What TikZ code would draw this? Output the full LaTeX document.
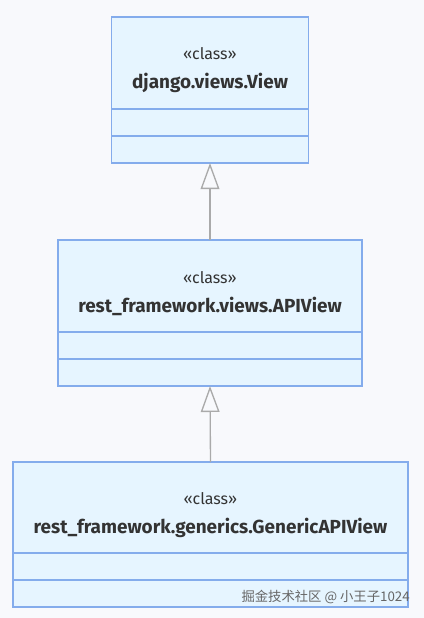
\documentclass[tikz,border=0pt]{standalone}
\usepackage{fontspec}
\setmainfont{Fira Sans}
\newfontfamily\cjkfont{Noto Sans CJK SC}
\usetikzlibrary{positioning,arrows.meta}
\definecolor{bgcol}{HTML}{F8F9FC}
\definecolor{boxfill}{HTML}{E6F5FF}
\definecolor{boxline}{HTML}{84ACEC}
\definecolor{linkcol}{HTML}{AAAAAA}
\definecolor{textcol}{HTML}{333333}
\tikzset{
  classhead/.style={draw=boxline, fill=boxfill, line width=1pt, outer sep=0pt, align=center, inner sep=0pt, text=textcol},
  classpart/.style={draw=boxline, fill=boxfill, line width=1pt, outer sep=0pt, inner sep=0pt, minimum height=20.25pt},
  inherit/.style={draw=linkcol, line width=1pt, -{Triangle[length=19.5pt, width=14pt, fill=bgcol, line width=1pt]}}
}
\newcommand{\classtext}[1]{{\fontsize{12}{14}\selectfont\rule{0pt}{20pt}«class»}\\[9.5pt]{\fontsize{14.2}{16}\selectfont\bfseries #1}}
\begin{document}
\begin{tikzpicture}[x=0.75pt, y=-0.75pt]

% Draw the background
\fill[bgcol] (0,0) rectangle (424,618);
\useasboundingbox (0,0) rectangle (424,618);

% draw the classes:
\node[classhead, minimum width=147.75pt, minimum height=69pt] (view) at (210,63) {\classtext{django.views.View}};
\node[classpart, minimum width=147.75pt, below=0pt of view] (viewattr) {};
\node[classpart, minimum width=147.75pt, below=0pt of viewattr] (viewops) {};

\node[classhead, minimum width=228pt, minimum height=69pt] (apiview) at (210,286) {\classtext{rest\_framework.views.APIView}};
\node[classpart, minimum width=228pt, below=0pt of apiview] (apiviewattr) {};
\node[classpart, minimum width=228pt, below=0pt of apiviewattr] (apiviewops) {};

\node[classhead, minimum width=296.25pt, minimum height=68.25pt] (generic) at (210.5,507.5) {\classtext{rest\_framework.generics.GenericAPIView}};
\node[classpart, minimum width=296.25pt, below=0pt of generic] (genericattr) {};
\node[classpart, minimum width=296.25pt, below=0pt of genericattr] (genericops) {};

% draw the inheritance links:
\draw[inherit] (apiview.north) -- (viewops.south);
\draw[inherit] (generic.north) -- (apiviewops.south);

% watermark
\node[anchor=east, text=gray!80!black, font=\cjkfont\fontsize{10}{12}\selectfont, inner sep=0pt] (mark) at (410,597) {掘金技术社区 @ 小王子1024};
\end{tikzpicture}
\end{document}
